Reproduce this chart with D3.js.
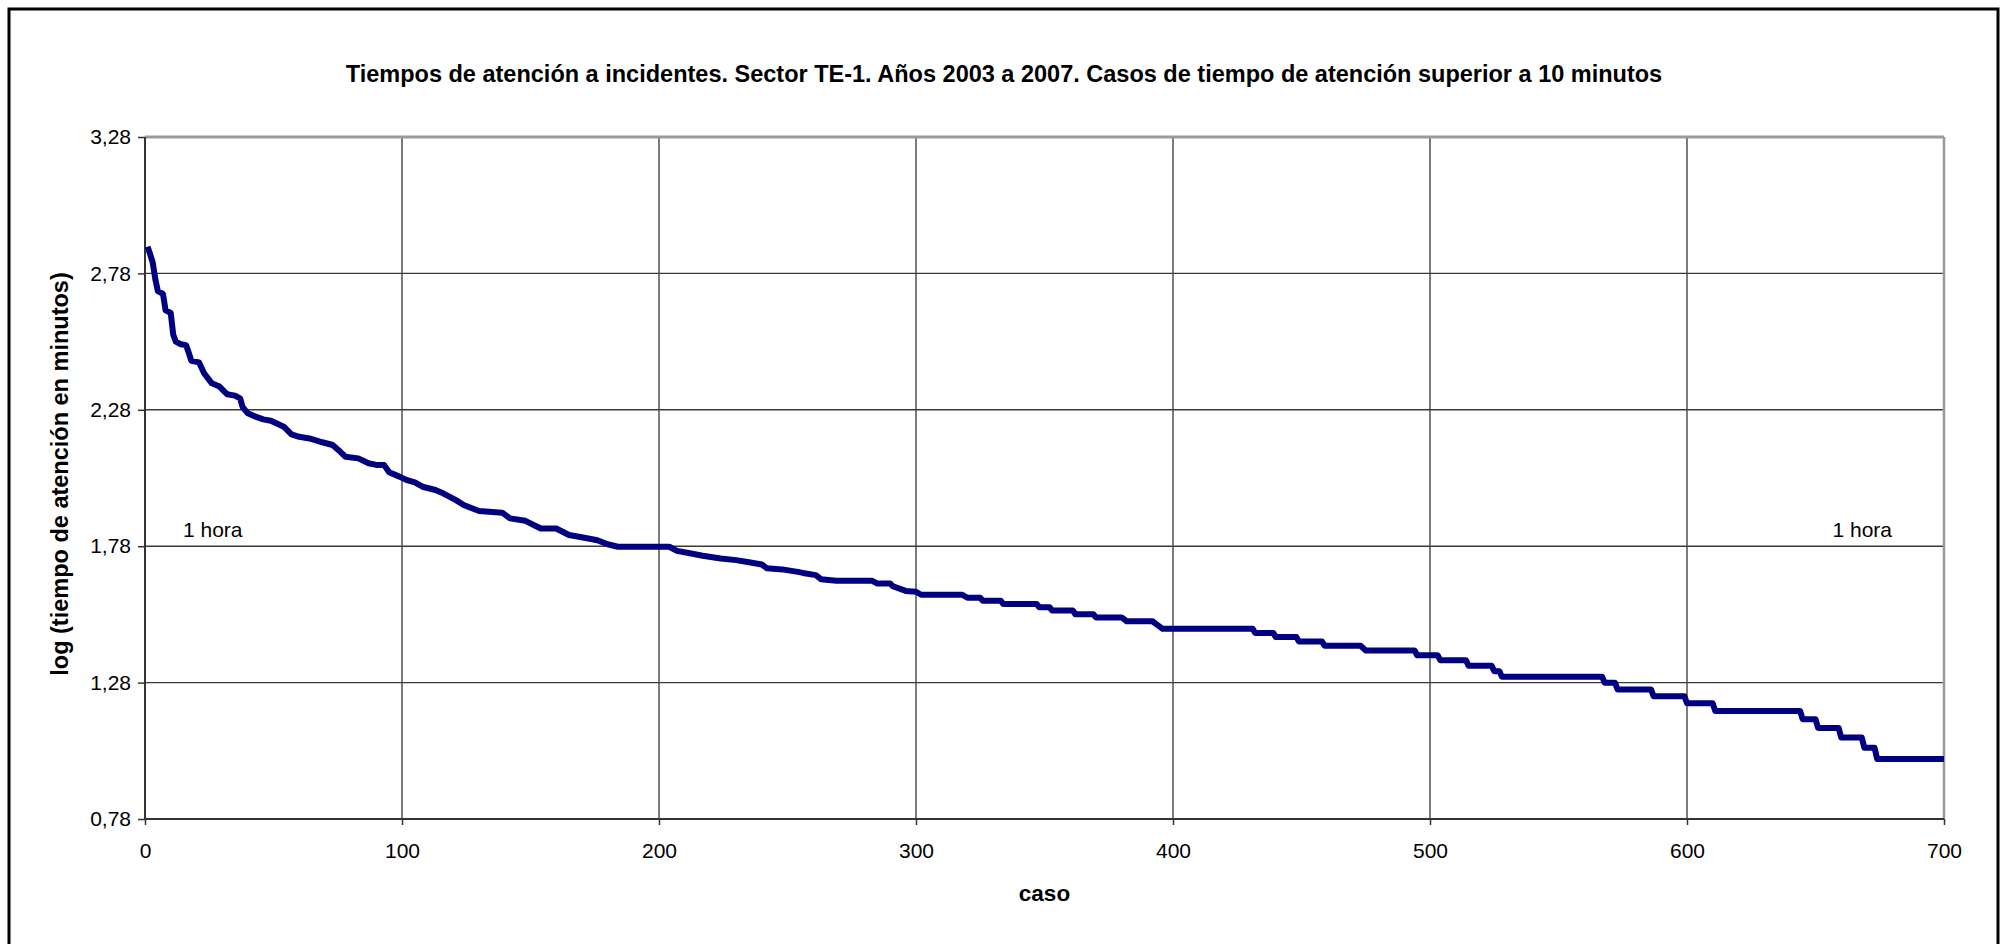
<!DOCTYPE html>
<html>
<head>
<meta charset="utf-8">
<script src="https://cdn.jsdelivr.net/npm/d3@7"></script>
<style>
  body { margin: 0; background: #fff; }
  text { font-family: "Liberation Sans", Arial, sans-serif; }
</style>
</head>
<body>
<svg id="chart"></svg>
<script>
// valores (caso, log del tiempo en minutos)
const casos = [1, 2, 3, 4, 5, 7, 8, 10, 11, 12, 14, 16, 17, 18, 21, 23, 26, 29, 31, 32,
  35, 37, 38, 40, 43, 46, 49, 54, 57, 60, 64, 69, 73, 76, 78, 83, 87, 90, 93, 95,
  99, 102, 105, 108, 113, 116, 121, 124, 130, 139, 142, 148, 154, 160, 165, 172, 176, 180, 184, 204,
  207, 212, 217, 224, 230, 235, 240, 242, 248, 254, 256, 261, 263, 269, 283, 285, 290, 291, 296, 300,
  302, 318, 320, 325, 326, 333, 334, 347, 348, 352, 353, 361, 362, 369, 370, 380, 382, 392, 394, 396,
  431, 432, 439, 440, 448, 449, 458, 459, 473, 475, 494, 495, 503, 504, 514, 515, 524, 525, 527, 528,
  567, 568, 572, 573, 586, 587, 599, 600, 610, 611, 644, 645, 650, 651, 659, 660, 668, 669, 673, 674, 700];
const logTiempo = [2.878, 2.85, 2.82, 2.76, 2.715, 2.705, 2.645, 2.635, 2.555, 2.53, 2.52, 2.517, 2.49, 2.46, 2.454, 2.414, 2.377, 2.365, 2.346, 2.337,
  2.332, 2.322, 2.29, 2.267, 2.255, 2.245, 2.24, 2.218, 2.19, 2.181, 2.175, 2.161, 2.151, 2.126, 2.108, 2.102, 2.084, 2.078, 2.078, 2.051,
  2.035, 2.022, 2.014, 1.998, 1.986, 1.974, 1.949, 1.931, 1.909, 1.903, 1.882, 1.873, 1.845, 1.845, 1.821, 1.809, 1.802, 1.787, 1.778, 1.778,
  1.763, 1.754, 1.745, 1.735, 1.729, 1.721, 1.713, 1.699, 1.695, 1.686, 1.682, 1.674, 1.659, 1.653, 1.653, 1.643, 1.643, 1.633, 1.616, 1.613,
  1.602, 1.602, 1.591, 1.591, 1.58, 1.58, 1.568, 1.568, 1.556, 1.556, 1.544, 1.544, 1.531, 1.531, 1.519, 1.519, 1.505, 1.505, 1.491, 1.477,
  1.477, 1.462, 1.462, 1.447, 1.447, 1.431, 1.431, 1.415, 1.415, 1.398, 1.398, 1.38, 1.38, 1.362, 1.362, 1.342, 1.342, 1.322, 1.322, 1.301,
  1.301, 1.279, 1.279, 1.255, 1.255, 1.23, 1.23, 1.204, 1.204, 1.176, 1.176, 1.146, 1.146, 1.114, 1.114, 1.079, 1.079, 1.041, 1.041, 1.0, 1.0];

const xTicks = [0, 100, 200, 300, 400, 500, 600, 700];
const yTicks = [0.78, 1.28, 1.78, 2.28, 2.78, 3.28];
const titulo = "Tiempos de atención a incidentes. Sector TE-1. Años 2003 a 2007. Casos de tiempo de atención superior a 10 minutos";
const tituloX = "caso";
const tituloY = "log (tiempo de atención en minutos)";
const etiquetaHora = "1 hora";

const W = 2008, H = 944;
const margin = {top: 137, right: 64, bottom: 125, left: 145};
const width = W - margin.left - margin.right,
      height = H - margin.top - margin.bottom;

const svg = d3.select("#chart")
    .attr("width", W)
    .attr("height", H);

// borde exterior
svg.append("rect")
    .attr("x", 9).attr("y", 9)
    .attr("width", 1989).attr("height", 980)
    .attr("fill", "white")
    .attr("stroke", "black")
    .attr("stroke-width", 3);

svg.append("text")
    .attr("x", W / 2)
    .attr("y", 82)
    .attr("text-anchor", "middle")
    .style("font-size", "23.5px")
    .style("font-weight", "bold")
    .text(titulo);

const g = svg.append("g")
    .attr("transform", `translate(${margin.left},${margin.top})`);

const x = d3.scaleLinear().domain([0, 700]).range([0, width]);
const y = d3.scaleLinear().domain([0.78, 3.28]).range([height, 0]);

const es = d3.formatLocale({decimal: ",", thousands: ".", grouping: [3], currency: ["", "€"]});
const fmt = es.format(".2f");

// rejilla
g.append("g").selectAll("line")
    .data(yTicks.slice(1, -1))
    .join("line")
    .attr("x1", 0).attr("x2", width)
    .attr("y1", d => y(d)).attr("y2", d => y(d))
    .attr("stroke", "#3a3a3a")
    .attr("stroke-width", 1.4);

g.append("g").selectAll("line")
    .data(xTicks.slice(1, -1))
    .join("line")
    .attr("y1", 0).attr("y2", height)
    .attr("x1", d => x(d)).attr("x2", d => x(d))
    .attr("stroke", "#444")
    .attr("stroke-width", 1.4);

// borde del area de trazado
g.append("line")
    .attr("x1", 0).attr("x2", width).attr("y1", 0).attr("y2", 0)
    .attr("stroke", "#999").attr("stroke-width", 3);
g.append("line")
    .attr("x1", width).attr("x2", width).attr("y1", 0).attr("y2", height)
    .attr("stroke", "#999").attr("stroke-width", 2.5);

// ejes
const yAxis = g.append("g")
    .call(d3.axisLeft(y).tickValues(yTicks).tickFormat(fmt).tickSize(7).tickPadding(7));
const xAxis = g.append("g")
    .attr("transform", `translate(0,${height})`)
    .call(d3.axisBottom(x).tickValues(xTicks).tickSize(6).tickPadding(18));

[yAxis, xAxis].forEach(a => {
  a.select(".domain").attr("stroke", "#333").attr("stroke-width", 2);
  a.selectAll(".tick line").attr("stroke", "#333").attr("stroke-width", 1.5);
  a.selectAll(".tick text")
      .style("font-size", "21px")
      .style("font-family", '"Liberation Sans", Arial, sans-serif')
      .attr("fill", "black");
});
yAxis.select(".domain").attr("d", `M0,${height + 0.5}V0`);
xAxis.select(".domain").attr("d", `M0,0H${width}`);

// titulos de ejes
svg.append("text")
    .attr("x", margin.left + width / 2)
    .attr("y", 901)
    .attr("text-anchor", "middle")
    .style("font-size", "22.5px")
    .style("font-weight", "bold")
    .text(tituloX);

svg.append("text")
    .attr("transform", "translate(68,474) rotate(-90)")
    .attr("text-anchor", "middle")
    .style("font-size", "23.5px")
    .style("font-weight", "bold")
    .text(tituloY);

// etiquetas 1 hora
g.append("text")
    .attr("x", 38).attr("y", 537 - margin.top)
    .style("font-size", "21px")
    .text(etiquetaHora);
g.append("text")
    .attr("x", 1892 - margin.left).attr("y", 537 - margin.top)
    .attr("text-anchor", "end")
    .style("font-size", "21px")
    .text(etiquetaHora);

// serie
const datos = casos.map((c, i) => [c, logTiempo[i]]);
g.append("path")
    .datum(datos)
    .attr("fill", "none")
    .attr("stroke", "#000080")
    .attr("stroke-width", 6)
    .attr("stroke-linejoin", "round")
    .attr("d", d3.line()
      .x(d => x(d[0]))
      .y(d => y(d[1])));
</script>
</body>
</html>
